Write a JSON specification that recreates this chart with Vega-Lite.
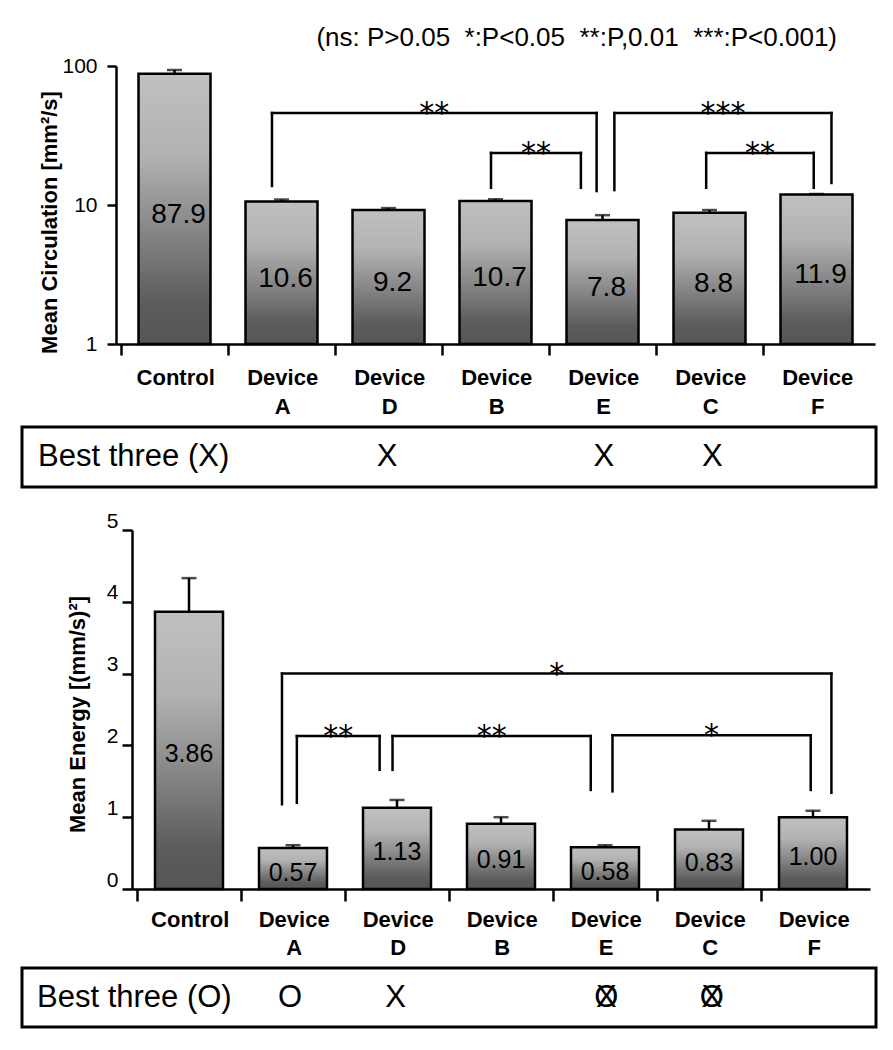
{
  "$schema": "https://vega.github.io/schema/vega-lite/v6.json",
  "background": "white",
  "padding": {"left": 20, "top": 25, "right": 5, "bottom": 5},
  "config": {
    "font": "Liberation Sans",
    "view": {"stroke": null},
    "axis": {"domainColor": "black", "tickColor": "black", "labelColor": "black", "titleColor": "black", "domainWidth": 2.5, "tickWidth": 2.5, "grid": false, "labelFont": "Liberation Sans", "titleFont": "Liberation Sans"},
    "axisY": {"labelFontSize": 21},
    "axisLeft": {"labelFontSize": 21}
  },
  "datasets": {
    "circ": [
      {"i": 0, "name": "Control", "v": 87.9, "err": 93.6},
      {"i": 1, "name": "Device A", "v": 10.6, "err": 10.95},
      {"i": 2, "name": "Device D", "v": 9.2, "err": 9.5},
      {"i": 3, "name": "Device B", "v": 10.7, "err": 11.0},
      {"i": 4, "name": "Device E", "v": 7.8, "err": 8.45},
      {"i": 5, "name": "Device C", "v": 8.8, "err": 9.2},
      {"i": 6, "name": "Device F", "v": 11.9, "err": 12.0}
    ],
    "energy": [
      {"i": 0, "name": "Control", "v": 3.86, "err": 4.33},
      {"i": 1, "name": "Device A", "v": 0.57, "err": 0.61},
      {"i": 2, "name": "Device D", "v": 1.13, "err": 1.24},
      {"i": 3, "name": "Device B", "v": 0.91, "err": 1.0},
      {"i": 4, "name": "Device E", "v": 0.58, "err": 0.61},
      {"i": 5, "name": "Device C", "v": 0.83, "err": 0.95},
      {"i": 6, "name": "Device F", "v": 1.0, "err": 1.09}
    ],
    "circSig": [
      {"x1": 0.911, "x2": 3.945, "y": 45.9, "yl": 13.7, "yr": 12.6, "s": "**"},
      {"x1": 2.958, "x2": 3.798, "y": 23.7, "yl": 13.3, "yr": 13.3, "s": "**"},
      {"x1": 4.111, "x2": 6.14, "y": 45.9, "yl": 12.8, "yr": 14.4, "s": "***"},
      {"x1": 4.969, "x2": 5.974, "y": 23.7, "yl": 13.3, "yr": 13.3, "s": "**"}
    ],
    "energySig": [
      {"x1": 0.894, "x2": 6.177, "y": 3.0, "yl": 1.18, "yr": 1.34, "s": "*"},
      {"x1": 1.037, "x2": 1.833, "y": 2.13, "yl": 1.2, "yr": 1.66, "s": "**"},
      {"x1": 1.957, "x2": 3.863, "y": 2.13, "yl": 1.66, "yr": 1.38, "s": "**"},
      {"x1": 4.072, "x2": 5.978, "y": 2.14, "yl": 1.36, "yr": 1.38, "s": "*"}
    ],
    "best1": [
      {"i": 2, "m": "X"}, {"i": 4, "m": "X"}, {"i": 5, "m": "X"}
    ],
    "best2": [
      {"i": 1, "m": "O"}, {"i": 2, "m": "X"}, {"i": 4, "m": "O"}, {"i": 4, "m": "X"}, {"i": 5, "m": "O"}, {"i": 5, "m": "X"}
    ]
  },
  "spacing": 21,
  "vconcat": [
    {
      "spacing": 8,
      "vconcat": [
        {
          "width": 854,
          "height": 278,
          "title": {"text": "(ns: P>0.05\u00a0\u00a0*:P<0.05\u00a0\u00a0**:P,0.01\u00a0\u00a0***:P<0.001)", "anchor": "end", "frame": "group", "fontSize": 26, "fontWeight": "normal", "font": "Liberation Sans", "color": "black", "dx": -39, "offset": 4},
          "layer": [
            {
              "data": {"name": "circ"},
              "mark": {"type": "bar", "orient": "vertical", "width": 72, "stroke": "black", "strokeWidth": 2.5,
                "fill": {"gradient": "linear", "x1": 0, "y1": 0, "x2": 0, "y2": 1, "stops": [{"offset": 0, "color": "#c0c0c0"}, {"offset": 0.3, "color": "#b2b2b2"}, {"offset": 0.85, "color": "#5c5c5c"}, {"offset": 1, "color": "#555555"}]}},
              "encoding": {
                "x": {"field": "i", "type": "quantitative", "scale": {"domain": [-0.5, 6.5], "range": [94, 853], "nice": false, "zero": false},
                  "axis": {"title": null, "values": [-0.5, 0.5, 1.5, 2.5, 3.5, 4.5, 5.5], "tickSize": 11, "labelExpr": "datum.value < 0 ? 'Control' : ['Device', substring('ADBECF', round(datum.value - 0.5), round(datum.value + 0.5))]", "labelOffset": 54.2, "labelFontSize": 22, "labelFontWeight": "bold", "labelPadding": 12, "labelLineHeight": 29, "labelBaseline": "top", "labelAlign": "center", "labelFlush": false, "labelOverlap": false, "labelBound": false}},
                "y": {"field": "v", "type": "quantitative", "scale": {"type": "log", "domain": [1, 100], "nice": false},
                  "axis": {"title": "Mean Circulation [mm²/s]", "values": [1, 10, 100], "format": "d", "offset": -94, "tickSize": 9, "labelFontSize": 21, "labelPadding": 10, "labelFlush": false, "titleFontSize": 22, "titleFontWeight": "bold", "titlePadding": 0, "titleY": 156}},
                "y2": {"datum": 1}
              }
            },
            {
              "data": {"name": "circ"},
              "mark": {"type": "rule", "stroke": "black", "strokeWidth": 2.5},
              "encoding": {"x": {"field": "i", "type": "quantitative"}, "y": {"field": "v", "type": "quantitative"}, "y2": {"field": "err"}}
            },
            {
              "data": {"name": "circ"},
              "mark": {"type": "tick", "orient": "horizontal", "color": "black", "size": 15, "thickness": 2.5},
              "encoding": {"x": {"field": "i", "type": "quantitative"}, "y": {"field": "err", "type": "quantitative"}}
            },
            {
              "data": {"name": "circ"},
              "transform": [{"calculate": "sqrt(datum.v)", "as": "lab"}],
              "mark": {"type": "text", "fontSize": 28, "font": "Liberation Sans", "color": "black", "dy": 6, "dx": 4, "baseline": "middle"},
              "encoding": {"x": {"field": "i", "type": "quantitative"}, "y": {"field": "lab", "type": "quantitative"}, "text": {"field": "v", "format": ".1f"}}
            },
            {
              "data": {"name": "circSig"},
              "mark": {"type": "rule", "stroke": "black", "strokeWidth": 2.5, "strokeCap": "square"},
              "encoding": {"x": {"field": "x1", "type": "quantitative"}, "x2": {"field": "x2"}, "y": {"field": "y", "type": "quantitative"}}
            },
            {
              "data": {"name": "circSig"},
              "mark": {"type": "rule", "stroke": "black", "strokeWidth": 2.5, "strokeCap": "square"},
              "encoding": {"x": {"field": "x1", "type": "quantitative"}, "y": {"field": "y", "type": "quantitative"}, "y2": {"field": "yl"}}
            },
            {
              "data": {"name": "circSig"},
              "mark": {"type": "rule", "stroke": "black", "strokeWidth": 2.5, "strokeCap": "square"},
              "encoding": {"x": {"field": "x2", "type": "quantitative"}, "y": {"field": "y", "type": "quantitative"}, "y2": {"field": "yr"}}
            },
            {
              "data": {"name": "circSig"},
              "transform": [{"calculate": "(datum.x1 + datum.x2) / 2", "as": "mid"}],
              "mark": {"type": "text", "font": "DejaVu Sans", "fontSize": 30, "color": "black", "baseline": "alphabetic", "dy": 10},
              "encoding": {"x": {"field": "mid", "type": "quantitative"}, "y": {"field": "y", "type": "quantitative"}, "text": {"field": "s"}}
            }
          ]
        },
        {
          "width": 854,
          "height": 60,
          "view": {"stroke": "black", "strokeWidth": 3},
          "layer": [
            {
              "data": {"name": "best1"},
              "mark": {"type": "text", "fontSize": 31, "font": "Liberation Sans", "color": "black", "baseline": "middle"},
              "encoding": {"x": {"field": "i", "type": "quantitative", "scale": {"domain": [-0.5, 6.5], "range": [94, 853], "nice": false, "zero": false}, "axis": null}, "text": {"field": "m"}}
            },
            {
              "data": {"values": [{"label": "Best three (X)"}]},
              "mark": {"type": "text", "fontSize": 31, "font": "Liberation Sans", "color": "black", "baseline": "middle", "align": "left"},
              "encoding": {"x": {"datum": -1.219}, "text": {"field": "label"}}
            }
          ]
        }
      ]
    },
    {
      "spacing": 8,
      "vconcat": [
        {
          "width": 854,
          "height": 359,
          "layer": [
            {
              "data": {"name": "energy"},
              "mark": {"type": "bar", "orient": "vertical", "width": 68, "stroke": "black", "strokeWidth": 2.5,
                "fill": {"gradient": "linear", "x1": 0, "y1": 0, "x2": 0, "y2": 1, "stops": [{"offset": 0, "color": "#c0c0c0"}, {"offset": 0.3, "color": "#b2b2b2"}, {"offset": 0.85, "color": "#5c5c5c"}, {"offset": 1, "color": "#555555"}]}},
              "encoding": {
                "x": {"field": "i", "type": "quantitative", "scale": {"domain": [-0.5, 6.5], "range": [110, 848], "nice": false, "zero": false},
                  "axis": {"title": null, "values": [-0.5, 0.5, 1.5, 2.5, 3.5, 4.5, 5.5], "tickSize": 12, "labelExpr": "datum.value < 0 ? 'Control' : ['Device', substring('ADBECF', round(datum.value - 0.5), round(datum.value + 0.5))]", "labelOffset": 52.7, "labelFontSize": 22, "labelFontWeight": "bold", "labelPadding": 8, "labelLineHeight": 28, "labelBaseline": "top", "labelAlign": "center", "labelFlush": false, "labelOverlap": false, "labelBound": false}},
                "y": {"field": "v", "type": "quantitative", "scale": {"domain": [0, 5], "nice": false},
                  "axis": {"title": "Mean Energy [(mm/s)²]", "values": [0, 1, 2, 3, 4, 5], "format": "d", "offset": -110, "tickSize": 10, "labelFontSize": 21, "labelPadding": 4, "labelOffset": -9, "labelFlush": false, "titleFontSize": 22, "titleFontWeight": "bold", "titlePadding": 17, "titleY": 184}},
                "y2": {"datum": 0}
              }
            },
            {
              "data": {"name": "energy"},
              "mark": {"type": "rule", "stroke": "black", "strokeWidth": 2.5},
              "encoding": {"x": {"field": "i", "type": "quantitative"}, "y": {"field": "v", "type": "quantitative"}, "y2": {"field": "err"}}
            },
            {
              "data": {"name": "energy"},
              "mark": {"type": "tick", "orient": "horizontal", "color": "black", "size": 15, "thickness": 2.5},
              "encoding": {"x": {"field": "i", "type": "quantitative"}, "y": {"field": "err", "type": "quantitative"}}
            },
            {
              "data": {"name": "energy"},
              "transform": [{"calculate": "datum.v / 2", "as": "lab"}],
              "mark": {"type": "text", "fontSize": 25, "font": "Liberation Sans", "color": "black", "dy": 4, "baseline": "middle"},
              "encoding": {"x": {"field": "i", "type": "quantitative"}, "y": {"field": "lab", "type": "quantitative"}, "text": {"field": "v", "format": ".2f"}}
            },
            {
              "data": {"name": "energySig"},
              "mark": {"type": "rule", "stroke": "black", "strokeWidth": 2.5, "strokeCap": "square"},
              "encoding": {"x": {"field": "x1", "type": "quantitative"}, "x2": {"field": "x2"}, "y": {"field": "y", "type": "quantitative"}}
            },
            {
              "data": {"name": "energySig"},
              "mark": {"type": "rule", "stroke": "black", "strokeWidth": 2.5, "strokeCap": "square"},
              "encoding": {"x": {"field": "x1", "type": "quantitative"}, "y": {"field": "y", "type": "quantitative"}, "y2": {"field": "yl"}}
            },
            {
              "data": {"name": "energySig"},
              "mark": {"type": "rule", "stroke": "black", "strokeWidth": 2.5, "strokeCap": "square"},
              "encoding": {"x": {"field": "x2", "type": "quantitative"}, "y": {"field": "y", "type": "quantitative"}, "y2": {"field": "yr"}}
            },
            {
              "data": {"name": "energySig"},
              "transform": [{"calculate": "(datum.x1 + datum.x2) / 2", "as": "mid"}],
              "mark": {"type": "text", "font": "DejaVu Sans", "fontSize": 30, "color": "black", "baseline": "alphabetic", "dy": 10},
              "encoding": {"x": {"field": "mid", "type": "quantitative"}, "y": {"field": "y", "type": "quantitative"}, "text": {"field": "s"}}
            }
          ]
        },
        {
          "width": 854,
          "height": 59,
          "view": {"stroke": "black", "strokeWidth": 3},
          "layer": [
            {
              "data": {"name": "best2"},
              "mark": {"type": "text", "fontSize": 31, "font": "Liberation Sans", "color": "black", "baseline": "middle"},
              "encoding": {"x": {"field": "i", "type": "quantitative", "scale": {"domain": [-0.5, 6.5], "range": [110, 848], "nice": false, "zero": false}, "axis": null}, "text": {"field": "m"}}
            },
            {
              "data": {"values": [{"label": "Best three (O)"}]},
              "mark": {"type": "text", "fontSize": 31, "font": "Liberation Sans", "color": "black", "baseline": "middle", "align": "left"},
              "encoding": {"x": {"datum": -1.401}, "text": {"field": "label"}}
            }
          ]
        }
      ]
    }
  ]
}
